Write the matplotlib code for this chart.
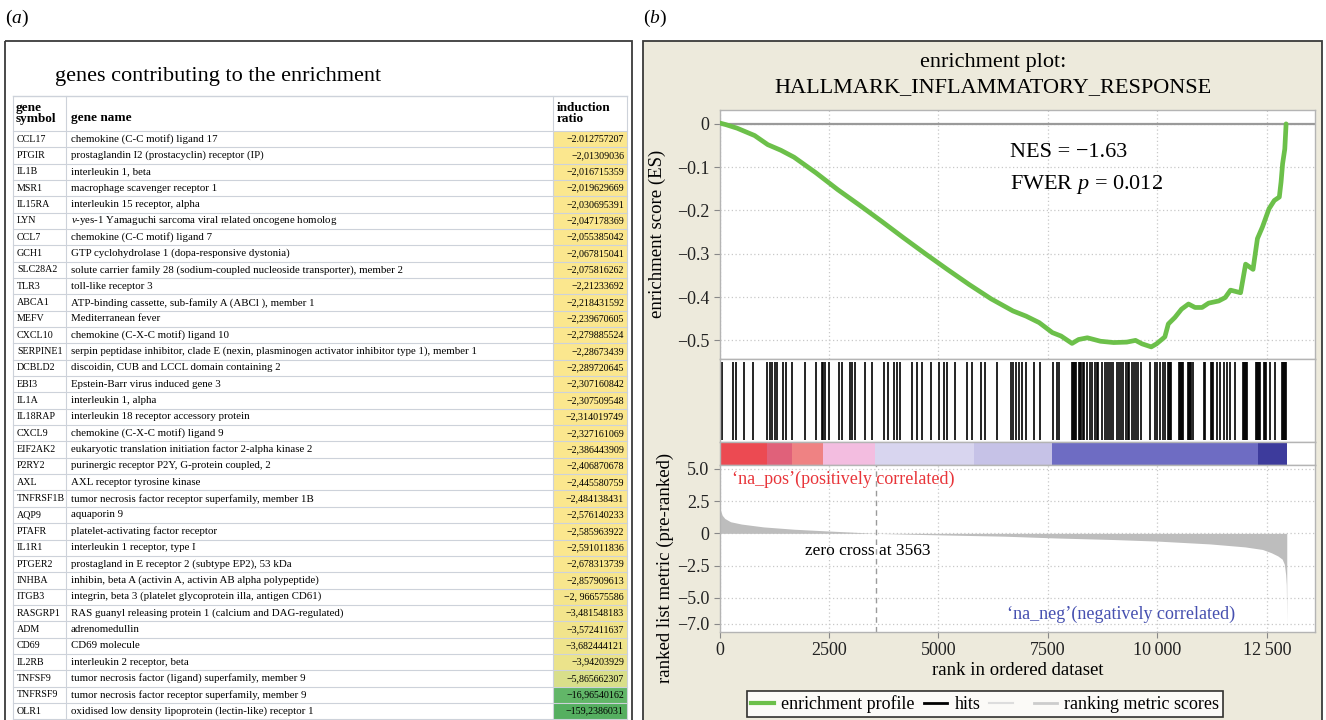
import matplotlib
matplotlib.use('Agg')
import matplotlib.pyplot as plt
from matplotlib.patches import Rectangle
from matplotlib.lines import Line2D

W, H = 1326, 720
plt.rcParams['font.family'] = ['Liberation Serif', 'DejaVu Serif']
plt.rcParams['mathtext.fontset'] = 'custom'
plt.rcParams['mathtext.rm'] = 'Liberation Serif'
plt.rcParams['mathtext.it'] = 'Liberation Serif:italic'
plt.rcParams['mathtext.bf'] = 'Liberation Serif:bold'

# ---------------- data: table (a) ----------------
gene_symbols = ['CCL17', 'PTGIR', 'IL1B', 'MSR1', 'IL15RA', 'LYN', 'CCL7', 'GCH1', 'SLC28A2',
                'TLR3', 'ABCA1', 'MEFV', 'CXCL10', 'SERPINE1', 'DCBLD2', 'EBI3', 'IL1A',
                'IL18RAP', 'CXCL9', 'EIF2AK2', 'P2RY2', 'AXL', 'TNFRSF1B', 'AQP9', 'PTAFR',
                'IL1R1', 'PTGER2', 'INHBA', 'ITGB3', 'RASGRP1', 'ADM', 'CD69', 'IL2RB',
                'TNFSF9', 'TNFRSF9', 'OLR1']
gene_names = [
    'chemokine (C-C motif) ligand 17',
    'prostaglandin I2 (prostacyclin) receptor (IP)',
    'interleukin 1, beta',
    'macrophage scavenger receptor 1',
    'interleukin 15 receptor, alpha',
    r'$v$-yes-1 Yamaguchi sarcoma viral related oncogene homolog',
    'chemokine (C-C motif) ligand 7',
    'GTP cyclohydrolase 1 (dopa-responsive dystonia)',
    'solute carrier family 28 (sodium-coupled nucleoside transporter), member 2',
    'toll-like receptor 3',
    'ATP-binding cassette, sub-family A (ABCl ), member 1',
    'Mediterranean fever',
    'chemokine (C-X-C motif) ligand 10',
    'serpin peptidase inhibitor, clade E (nexin, plasminogen activator inhibitor type 1), member 1',
    'discoidin, CUB and LCCL domain containing 2',
    'Epstein-Barr virus induced gene 3',
    'interleukin 1, alpha',
    'interleukin 18 receptor accessory protein',
    'chemokine (C-X-C motif) ligand 9',
    'eukaryotic translation initiation factor 2-alpha kinase 2',
    'purinergic receptor P2Y, G-protein coupled, 2',
    'AXL receptor tyrosine kinase',
    'tumor necrosis factor receptor superfamily, member 1B',
    'aquaporin 9',
    'platelet-activating factor receptor',
    'interleukin 1 receptor, type I',
    'prostagland in E receptor 2 (subtype EP2), 53 kDa',
    'inhibin, beta A (activin A, activin AB alpha polypeptide)',
    'integrin, beta 3 (platelet glycoprotein illa, antigen CD61)',
    'RAS guanyl releasing protein 1 (calcium and DAG-regulated)',
    'adrenomedullin',
    'CD69 molecule',
    'interleukin 2 receptor, beta',
    'tumor necrosis factor (ligand) superfamily, member 9',
    'tumor necrosis factor receptor superfamily, member 9',
    'oxidised low density lipoprotein (lectin-like) receptor 1',
]
induction_ratio = ['\u22122.012757207', '\u22122,01309036', '\u22122,016715359', '\u22122,019629669',
                   '\u22122,030695391', '\u22122,047178369', '\u22122,055385042', '\u22122,067815041',
                   '\u22122,075816262', '\u22122,21233692', '\u22122,218431592', '\u22122,239670605',
                   '\u22122,279885524', '\u22122,28673439', '\u22122,289720645', '\u22122,307160842',
                   '\u22122,307509548', '\u22122,314019749', '\u22122,327161069', '\u22122,386443909',
                   '\u22122,406870678', '\u22122,445580759', '\u22122,484138431', '\u22122,576140233',
                   '\u22122,585963922', '\u22122,591011836', '\u22122,678313739', '\u22122,857909613',
                   '\u22122, 966575586', '\u22123,481548183', '\u22123,572411637', '\u22123,682444121',
                   '\u22123,94203929', '\u22125,865662307', '\u221216,96540162', '\u2212159,2386031']
ratio_colors = ['#fbe78e'] * 26 + ['#f9e78d', '#f7e68d', '#f5e58c', '#f3e58c', '#f1e48c',
                                   '#efe48c', '#ebe38b', '#d9df8a', '#62b668', '#55af60']

# ---------------- data: enrichment plot (b) ----------------
es_rank = [0, 150, 400, 800, 1100, 1400, 1700, 2200, 2700, 3200, 3700, 4200, 4700, 5200,
           5700, 6200, 6700, 7000, 7300, 7600, 7800, 8050, 8200, 8400, 8700, 9000, 9300,
           9500, 9650, 9860, 9980, 10170, 10250, 10400, 10550, 10710, 10860, 11020, 11170,
           11400, 11550, 11670, 11900, 12015, 12185, 12285, 12400, 12550, 12670, 12785,
           12825, 12860, 12910, 12940]
es_value = [0.002, -0.002, -0.010, -0.027, -0.048, -0.061, -0.077, -0.113, -0.152, -0.188,
            -0.225, -0.263, -0.300, -0.336, -0.371, -0.404, -0.432, -0.444, -0.459, -0.482,
            -0.490, -0.507, -0.498, -0.494, -0.502, -0.505, -0.504, -0.500, -0.508, -0.515,
            -0.508, -0.492, -0.462, -0.447, -0.428, -0.416, -0.424, -0.424, -0.414, -0.409,
            -0.401, -0.384, -0.390, -0.324, -0.336, -0.265, -0.238, -0.196, -0.177, -0.169,
            -0.134, -0.092, -0.058, 0.0]

hit_ranks = [62, 313, 368, 564, 756, 1090, 1152, 1204, 1266, 1312, 1456, 1517, 1661, 1952,
             2203, 2333, 2370, 2409, 2500, 2735, 2790, 2980, 3019, 3094, 3323, 3476, 3764,
             3855, 3992, 4047, 4123, 4390, 4518, 4618, 4824, 5014, 5135, 5190, 5379, 5660,
             5775, 5967, 6065, 6332, 6659, 6712, 6773, 6842, 6904, 6995, 7185, 7322, 7612,
             7703, 7763, 8040, 8069, 8099, 8120, 8150, 8200, 8236, 8260, 8290, 8330, 8389,
             8460, 8503, 8579, 8620, 8654, 8730, 8807, 8846, 8900, 8944, 8997, 9075, 9120,
             9173, 9225, 9280, 9320, 9355, 9418, 9477, 9520, 9568, 9630, 9835, 9934, 9989,
             10064, 10117, 10179, 10240, 10270, 10293, 10315, 10499, 10520, 10545, 10565,
             10584, 10697, 10725, 10750, 10775, 10802, 11054, 11092, 11223, 11240, 11259,
             11360, 11435, 11511, 11588, 11664, 11778, 11945, 11970, 11991, 12015, 12036,
             12251, 12275, 12297, 12315, 12333, 12441, 12465, 12486, 12577, 12692, 12845,
             12870, 12890, 12915, 12936]

band_edges = [0, 1090, 1660, 2370, 3560, 5800, 7600, 12300, 12960]
band_colors = ['#ec4a52', '#e0617a', '#ef8283', '#f3bde0', '#d8d5ef', '#c6c2e7', '#6e6cc3',
               '#3d3b9c']

metric_rank = [0, 20, 60, 120, 250, 500, 1000, 1700, 2500, 3000, 3563, 4500, 5200, 6500,
               7700, 9000, 10000, 11200, 12000, 12400, 12600, 12750, 12850, 12900, 12930,
               12945, 12955]
metric_value = [2.2, 1.8, 1.4, 1.15, 0.9, 0.72, 0.5, 0.32, 0.18, 0.1, 0.0, -0.08, -0.13,
                -0.22, -0.36, -0.48, -0.6, -0.82, -1.05, -1.25, -1.5, -1.75, -2.0, -2.4,
                -3.2, -4.0, -6.9]
zero_cross = 3563
x_ticks = [0, 2500, 5000, 7500, 10000, 12500]
x_ticklabels = ['0', '2500', '5000', '7500', '10\u2009000', '12\u2009500']
es_ticks = [0, -0.1, -0.2, -0.3, -0.4, -0.5]
es_ticklabels = ['0', '\u22120.1', '\u22120.2', '\u22120.3', '\u22120.4', '\u22120.5']
m_ticks = [5, 2.5, 0, -2.5, -5, -7]
m_ticklabels = ['5.0', '2.5', '0', '\u22122.5', '\u22125.0', '\u22127.0']

# ---------------- figure ----------------
fig = plt.figure(figsize=(W / 100, H / 100), dpi=100)
fig.patch.set_facecolor('white')


def ax_px(x0, y0, x1, y1):
    return fig.add_axes([x0 / W, 1 - y1 / H, (x1 - x0) / W, (y1 - y0) / H])


bg = fig.add_axes([0, 0, 1, 1])
bg.set_xlim(0, W)
bg.set_ylim(H, 0)
bg.axis('off')

# panel labels
bg.text(5, 18, r'($a$)', fontsize=14, va='center', ha='left')
bg.text(643, 18, r'($b$)', fontsize=14, va='center', ha='left')

# ---- table panel ----
bg.add_patch(Rectangle((5, 41), 627, 700, fill=False, ec='#3a3a3a', lw=1.3))
bg.text(55, 76, 'genes contributing to the enrichment', fontsize=16, va='center', ha='left')

tx0, tx1 = 13, 627
c1, c2 = 66, 553
head_top, head_bot = 96, 131
row_h = 16.34
line_c = '#cdd2da'
n = len(gene_symbols)
for i in range(n):
    top = head_bot + i * row_h
    bg.add_patch(Rectangle((c2, top), tx1 - c2, row_h, fc=ratio_colors[i], ec='none'))
    yc = top + row_h / 2
    bg.text(17, yc, gene_symbols[i], fontsize=7.2, va='center', ha='left')
    bg.text(71, yc, gene_names[i], fontsize=7.8, va='center', ha='left')
    bg.text(624, yc, induction_ratio[i], fontsize=7.2, va='center', ha='right')
bottom = head_bot + n * row_h
for k in range(n + 1):
    y = head_bot + k * row_h
    bg.plot([tx0, tx1], [y, y], color=line_c, lw=0.8)
bg.plot([tx0, tx1], [head_top, head_top], color=line_c, lw=1.0)
for xv in (tx0, c1, c2, tx1):
    bg.plot([xv, xv], [head_top, bottom], color=line_c, lw=0.8)
bg.text(16, (head_top + head_bot) / 2, 'gene\nsymbol', fontsize=9.5, fontweight='bold',
        va='center', ha='left', linespacing=0.9)
bg.text(71, (head_top + head_bot) / 2 + 4, 'gene name', fontsize=9.5, fontweight='bold',
        va='center', ha='left')
bg.text(557, (head_top + head_bot) / 2, 'induction\nratio', fontsize=9.5, fontweight='bold',
        va='center', ha='left', linespacing=0.9)

# ---- enrichment panel background ----
bg.add_patch(Rectangle((643, 41), 679, 700, fc='#edeadc', ec='#3a3a3a', lw=1.3))
bg.text(993, 62, 'enrichment plot:', fontsize=16, ha='center', va='center')
bg.text(993, 88, 'HALLMARK_INFLAMMATORY_RESPONSE', fontsize=16, ha='center', va='center')
bg.text(657, 234, 'enrichment score (ES)', fontsize=13.5, rotation=90, ha='center', va='center')
bg.text(665, 568, 'ranked list metric (pre-ranked)', fontsize=13.5, rotation=90,
        ha='center', va='center')

XMAX = 13600
frame_c = '#b4b4b4'
grid_kw = dict(ls=(0, (1, 2)), color='#c8c8c8', lw=0.9)


def style(ax):
    for s in ax.spines.values():
        s.set_color(frame_c)
        s.set_linewidth(1.0)
    ax.set_facecolor('white')
    ax.tick_params(colors='#888888', labelcolor='#222222', labelsize=13, length=4, width=0.8)


# ES axes
ax_es = ax_px(719.6, 110, 1315, 359)
style(ax_es)
ax_es.set_xlim(0, XMAX)
ax_es.set_ylim(-0.543, 0.032)
ax_es.set_xticks(x_ticks)
ax_es.tick_params(axis='x', length=0, labelbottom=False)
ax_es.set_yticks(es_ticks)
ax_es.set_yticklabels(es_ticklabels)
ax_es.grid(True, **grid_kw)
ax_es.set_axisbelow(True)
ax_es.axhline(0, color='#9a9a9a', lw=1.6, zorder=2)
ax_es.plot(es_rank, es_value, color='#6cc04a', lw=3.4, solid_capstyle='round', zorder=3)
ax_es.text(6640, -0.067, 'NES = \u22121.63', fontsize=16, ha='left', va='center')
ax_es.text(6640, -0.141, r'FWER $p$ = 0.012', fontsize=16, ha='left', va='center')

# hits axes
ax_h = ax_px(719.6, 359, 1315, 442)
style(ax_h)
ax_h.set_xlim(0, XMAX)
ax_h.set_ylim(0, 1)
ax_h.set_xticks([])
ax_h.set_yticks([])
ax_h.vlines(hit_ranks, 0.03, 0.965, color='black', lw=1.2)

# colour band
ax_c = ax_px(719.6, 442, 1315, 465)
style(ax_c)
ax_c.set_xlim(0, XMAX)
ax_c.set_ylim(0, 1)
ax_c.set_xticks([])
ax_c.set_yticks([])
for k in range(len(band_colors)):
    ax_c.axvspan(band_edges[k], band_edges[k + 1], color=band_colors[k], lw=0)

# ranked metric axes
ax_m = ax_px(719.6, 465, 1315, 632)
style(ax_m)
ax_m.set_xlim(0, XMAX)
ax_m.set_ylim(-7.65, 5.3)
ax_m.set_xticks(x_ticks)
ax_m.set_xticklabels(x_ticklabels)
ax_m.set_yticks(m_ticks)
ax_m.set_yticklabels(m_ticklabels)
ax_m.grid(True, **grid_kw)
ax_m.set_axisbelow(True)
ax_m.fill_between(metric_rank, 0, metric_value, color='#bdbdbd', lw=0, zorder=2)
ax_m.axvline(zero_cross, color='#9a9a9a', lw=1.0, ls=(0, (4, 3)), zorder=2)
ax_m.text(3390, -1.4, 'zero cross at 3563', fontsize=12.5, ha='center', va='center')
ax_m.text(285, 4.15, '\u2018na_pos\u2019(positively correlated)', fontsize=13,
          color='#e8353a', ha='left', va='center')
ax_m.text(11780, -6.3, '\u2018na_neg\u2019(negatively correlated)', fontsize=13,
          color='#4650b0', ha='right', va='center')
ax_m.set_xlabel('rank in ordered dataset', fontsize=13.5, labelpad=2)

handles = [Line2D([], [], color='#6cc04a', lw=3),
           Line2D([], [], color='black', lw=2),
           Line2D([], [], color='#dddddd', lw=1.5),
           Line2D([], [], color='#cccccc', lw=2)]
labels = ['enrichment profile', 'hits', ' ', 'ranking metric scores']
leg = fig.legend(handles, labels, loc='center', bbox_to_anchor=(985 / W, 1 - 704 / H),
                 ncol=4, fontsize=13, frameon=True, fancybox=False, handlelength=1.3,
                 handletextpad=0.4, columnspacing=0.5, borderpad=0.2, borderaxespad=0)
leg.get_frame().set_edgecolor('black')
leg.get_frame().set_linewidth(1.2)
leg.get_frame().set_facecolor('white')

fig.savefig('out.png', dpi=100, facecolor='white')
